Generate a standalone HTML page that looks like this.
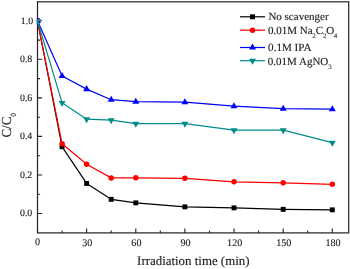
<!DOCTYPE html><html><head><meta charset="utf-8"><title>chart</title><style>html,body{margin:0;padding:0;background:#fff}svg{display:block;will-change:transform;transform:translateZ(0)}text{font-family:"Liberation Serif",serif;fill:#1a1a1a;stroke:#1a1a1a;stroke-width:0.12px;text-rendering:geometricPrecision}</style></head><body>
<svg width="350" height="269" viewBox="0 0 350 269">
<rect width="350" height="269" fill="#fff"/>
<defs><clipPath id="plot"><rect x="36.9" y="1.8" width="311.9" height="231.1"/></clipPath></defs>
<rect x="37.5" y="1.8" width="311.2" height="231.1" fill="none" stroke="#222" stroke-width="1.2"/>
<path d="M37.5 213.5h4.6M37.5 194.2h2.6M37.5 175.0h4.6M37.5 155.7h2.6M37.5 136.4h4.6M37.5 117.2h2.6M37.5 97.9h4.6M37.5 78.6h2.6M37.5 59.3h4.6M37.5 40.1h2.6M37.5 20.8h4.6M37.5 232.9v-4.5M62.1 232.9v-2.3M86.6 232.9v-4.5M111.2 232.9v-2.3M135.8 232.9v-4.5M160.3 232.9v-2.3M184.9 232.9v-4.5M209.5 232.9v-2.3M234.0 232.9v-4.5M258.6 232.9v-2.3M283.2 232.9v-4.5M307.7 232.9v-2.3M332.3 232.9v-4.5" stroke="#222" stroke-width="1.1" fill="none"/>
<g clip-path="url(#plot)">
<polyline fill="none" stroke="#000" stroke-width="1.2" stroke-linejoin="round" points="37.5,20.8 62.1,146.8 86.6,183.4 111.2,199.3 135.8,202.8 184.9,206.8 234.0,207.8 283.2,209.3 332.3,209.8"/>
<rect x="35.05" y="18.35" width="4.90" height="4.90" fill="#000"/>
<rect x="59.62" y="144.30" width="4.90" height="4.90" fill="#000"/>
<rect x="84.18" y="181.00" width="4.90" height="4.90" fill="#000"/>
<rect x="108.75" y="196.90" width="4.90" height="4.90" fill="#000"/>
<rect x="133.32" y="200.40" width="4.90" height="4.90" fill="#000"/>
<rect x="182.45" y="204.40" width="4.90" height="4.90" fill="#000"/>
<rect x="231.58" y="205.40" width="4.90" height="4.90" fill="#000"/>
<rect x="280.72" y="206.90" width="4.90" height="4.90" fill="#000"/>
<rect x="329.85" y="207.40" width="4.90" height="4.90" fill="#000"/>
<polyline fill="none" stroke="#f00" stroke-width="1.2" stroke-linejoin="round" points="37.5,20.8 62.1,143.8 86.6,164.3 111.2,177.9 135.8,177.8 184.9,178.3 234.0,181.8 283.2,182.8 332.3,184.3"/>
<circle cx="37.5" cy="20.8" r="2.75" fill="#f00"/>
<circle cx="62.1" cy="143.8" r="2.75" fill="#f00"/>
<circle cx="86.6" cy="164.3" r="2.75" fill="#f00"/>
<circle cx="111.2" cy="177.9" r="2.75" fill="#f00"/>
<circle cx="135.8" cy="177.8" r="2.75" fill="#f00"/>
<circle cx="184.9" cy="178.3" r="2.75" fill="#f00"/>
<circle cx="234.0" cy="181.8" r="2.75" fill="#f00"/>
<circle cx="283.2" cy="182.8" r="2.75" fill="#f00"/>
<circle cx="332.3" cy="184.3" r="2.75" fill="#f00"/>
<polyline fill="none" stroke="#00f" stroke-width="1.2" stroke-linejoin="round" points="37.5,20.8 62.1,76.0 86.6,89.1 111.2,99.7 135.8,101.7 184.9,102.2 234.0,106.2 283.2,108.7 332.3,109.2"/>
<polygon fill="#00f" points="37.5,16.74 34.00,22.90 41.00,22.90"/>
<polygon fill="#00f" points="62.1,71.94 58.57,78.10 65.57,78.10"/>
<polygon fill="#00f" points="86.6,85.04 83.13,91.20 90.13,91.20"/>
<polygon fill="#00f" points="111.2,95.64 107.70,101.80 114.70,101.80"/>
<polygon fill="#00f" points="135.8,97.64 132.27,103.80 139.27,103.80"/>
<polygon fill="#00f" points="184.9,98.14 181.40,104.30 188.40,104.30"/>
<polygon fill="#00f" points="234.0,102.14 230.53,108.30 237.53,108.30"/>
<polygon fill="#00f" points="283.2,104.64 279.67,110.80 286.67,110.80"/>
<polygon fill="#00f" points="332.3,105.14 328.80,111.30 335.80,111.30"/>
<polyline fill="none" stroke="#008b8b" stroke-width="1.2" stroke-linejoin="round" points="37.5,20.8 62.1,102.8 86.6,119.2 111.2,120.2 135.8,123.7 184.9,123.7 234.0,130.2 283.2,130.2 332.3,142.7"/>
<polygon fill="#008b8b" points="37.5,24.86 34.00,18.88 41.00,18.88"/>
<polygon fill="#008b8b" points="62.1,106.86 58.57,100.88 65.57,100.88"/>
<polygon fill="#008b8b" points="86.6,123.26 83.13,117.28 90.13,117.28"/>
<polygon fill="#008b8b" points="111.2,124.26 107.70,118.28 114.70,118.28"/>
<polygon fill="#008b8b" points="135.8,127.76 132.27,121.78 139.27,121.78"/>
<polygon fill="#008b8b" points="184.9,127.76 181.40,121.78 188.40,121.78"/>
<polygon fill="#008b8b" points="234.0,134.26 230.53,128.27 237.53,128.27"/>
<polygon fill="#008b8b" points="283.2,134.26 279.67,128.27 286.67,128.27"/>
<polygon fill="#008b8b" points="332.3,146.76 328.80,140.77 335.80,140.77"/>
</g>
<text x="32.3" y="216.30" font-size="9.9" text-anchor="end">0.0</text>
<text x="32.3" y="177.76" font-size="9.9" text-anchor="end">0.2</text>
<text x="32.3" y="139.22" font-size="9.9" text-anchor="end">0.4</text>
<text x="32.3" y="100.68" font-size="9.9" text-anchor="end">0.6</text>
<text x="32.3" y="62.14" font-size="9.9" text-anchor="end">0.8</text>
<text x="33.2" y="23.60" font-size="9.9" text-anchor="end">1.0</text>
<text x="37.55" y="245.30" font-size="10.1" text-anchor="middle">0</text>
<text x="87.28" y="245.60" font-size="10.1" text-anchor="middle">30</text>
<text x="136.42" y="245.60" font-size="10.1" text-anchor="middle">60</text>
<text x="185.55" y="245.60" font-size="10.1" text-anchor="middle">90</text>
<text x="234.68" y="245.60" font-size="10.1" text-anchor="middle">120</text>
<text x="283.82" y="245.60" font-size="10.1" text-anchor="middle">150</text>
<text x="332.95" y="245.60" font-size="10.1" text-anchor="middle">180</text>
<text x="193.3" y="264.8" font-size="12.9" text-anchor="middle">Irradiation time (min)</text>
<text transform="translate(10.8,137.6) rotate(-90) scale(0.97,1.03)" font-size="13.4">C/C<tspan font-size="7.8" dy="5.3">0</tspan></text>
<line x1="240" x2="265" y1="16.8" y2="16.8" stroke="#000" stroke-width="1.2"/>
<rect x="250.05" y="14.35" width="4.90" height="4.90" fill="#000"/>
<line x1="240" x2="265" y1="30.2" y2="30.2" stroke="#f00" stroke-width="1.2"/>
<circle cx="252.5" cy="30.2" r="2.75" fill="#f00"/>
<line x1="240" x2="265" y1="47.5" y2="47.5" stroke="#00f" stroke-width="1.2"/>
<polygon fill="#00f" points="252.5,43.44 249.00,49.60 256.00,49.60"/>
<line x1="240" x2="265" y1="60.7" y2="60.7" stroke="#008b8b" stroke-width="1.2"/>
<polygon fill="#008b8b" points="252.5,64.76 249.00,58.78 256.00,58.78"/>
<text x="268.4" y="20.1" font-size="11.0">No scavenger</text>
<text x="268" y="34.0" font-size="11.0">0.01M Na<tspan font-size="6.9" dy="4.25" dx="-0.3">2</tspan><tspan dy="-4.25" dx="-0.1">C</tspan><tspan font-size="6.9" dy="4.25">2</tspan><tspan dy="-4.25" dx="-0.2">O</tspan><tspan font-size="6.9" dy="4.25" dx="-0.5">4</tspan></text>
<text x="268.1" y="51.1" font-size="11.1">0.1M IPA</text>
<text x="267.8" y="64.6" font-size="11.0">0.01M AgNO<tspan font-size="6.9" dy="4.25">3</tspan></text>
</svg></body></html>
